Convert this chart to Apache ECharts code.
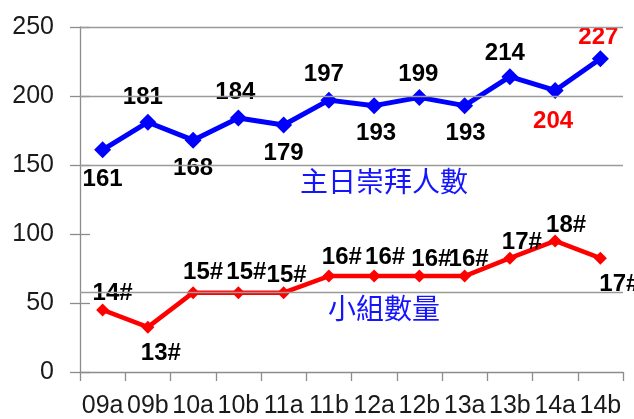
<!DOCTYPE html>
<html><head><meta charset="utf-8">
<script src="https://cdn.jsdelivr.net/npm/echarts@6/dist/echarts.min.js"></script>
<style>html,body{margin:0;padding:0;background:#fff}#c{width:634px;height:419px}</style>
</head><body><div id="c"></div>
<script>
const categories = ['09a','09b','10a','10b','11a','11b','12a','12b','13a','13b','14a','14b'];
const attendance = [161,181,168,184,179,197,193,199,193,214,204,227];
const groupCount = [14,13,15,15,15,16,16,16,16,17,18,17];
const groupPlot = [45,32.5,57.5,57.5,57.5,69.5,69.5,69.5,69.5,82.5,95,82.5];
const yTicks = [0,50,100,150,200,250];
const gridValues = [150,200,250];
const refValue = 57.5;
const attendanceName = '主日崇拜人數';
const groupName = '小組數量';

// styling (label offsets relative to each point)
const blueOff = [[0,30],[-5,-25],[0,28],[-3,-26],[0,28],[-5,-26],[2,28],[-1,-23],[1,28],[-5,-23],[-2,31],[-2,-21]];
const blueCol = ['#000','#000','#000','#000','#000','#000','#000','#000','#000','#000','#ff0000','#ff0000'];
const redOff = [[10,-17],[13,26],[10,-20],[8,-20],[3,-17],[13,-19],[11,-19],[12,-17],[4,-17],[12,-16],[11,-16],[19,26]];

const FONT = '"Liberation Sans", Arial, sans-serif';
const labelBase = {show:true, position:'inside', align:'center', verticalAlign:'middle',
  fontFamily:FONT, fontWeight:'bold', fontSize:24};

const blueData = attendance.map((v,i)=>({value:v, label:Object.assign({}, labelBase,
  {offset:blueOff[i], color:blueCol[i], formatter:String(v)})}));
const redData = groupPlot.map((v,i)=>({value:v, label:Object.assign({}, labelBase,
  {offset:redOff[i], color:'#000', formatter:groupCount[i]+'#'})}));

const chart = echarts.init(document.getElementById('c'), null, {renderer:'canvas'});
chart.setOption({
  animation:false,
  grid:{left:80, right:11, top:27, bottom:45, containLabel:false},
  xAxis:{type:'category', data:categories, boundaryGap:true,
    axisLine:{lineStyle:{color:'#8c8c8c', width:1.3}},
    axisTick:{show:true, length:9, lineStyle:{color:'#8c8c8c', width:1.3}},
    axisLabel:{fontFamily:FONT, fontSize:25, color:'#1a1a1a', margin:22, interval:0},
    splitLine:{show:false}},
  yAxis:[
    {type:'value', min:yTicks[0], max:yTicks[yTicks.length-1], interval:50,
      axisLine:{show:true, lineStyle:{color:'#8c8c8c', width:1.3}},
      axisTick:{show:true, length:10, lineStyle:{color:'#8c8c8c', width:1.3}},
      axisLabel:{fontFamily:FONT, fontSize:25, color:'#1a1a1a', margin:26},
      splitLine:{show:false}},
    {type:'value', position:'left', min:yTicks[0], max:yTicks[yTicks.length-1], interval:50,
      axisLine:{show:false},
      axisTick:{show:true, inside:true, length:10, lineStyle:{color:'#8c8c8c', width:1.3}},
      axisLabel:{show:false}, splitLine:{show:false}}
  ],
  graphic:[
    {type:'text', left:300, top:167, style:{text:attendanceName, fill:'#1414ff',
      font:'28px "Noto Sans CJK TC", sans-serif'}},
    {type:'text', left:328, top:294, style:{text:groupName, fill:'#1414ff',
      font:'28px "Noto Sans CJK TC", sans-serif'}}
  ],
  series:[
    {type:'line', name:'grid', data:[], silent:true, z:1,
      markLine:{silent:true, symbol:'none', label:{show:false},
        lineStyle:{color:'#9a9a9a', width:1.3, type:'solid'},
        data:gridValues.concat([refValue]).map(v=>({yAxis:v}))}},
    {type:'line', name:groupName, data:redData, z:3,
      symbol:'diamond', symbolSize:13,
      lineStyle:{color:'#ff0000', width:4.5}, itemStyle:{color:'#ff0000'}},
    {type:'line', name:attendanceName, data:blueData, z:4,
      symbol:'diamond', symbolSize:17,
      lineStyle:{color:'#0000ff', width:5}, itemStyle:{color:'#0000ff'}}
  ]
});
</script></body></html>
